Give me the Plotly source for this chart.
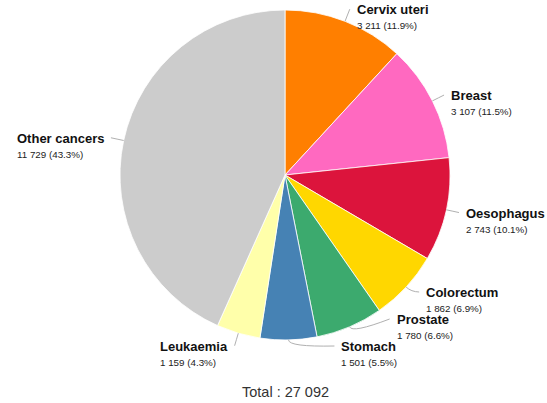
import math
import plotly.graph_objects as go

categories = ["Cervix uteri", "Breast", "Oesophagus", "Colorectum", "Prostate",
              "Stomach", "Leukaemia", "Other cancers"]
values = [3211, 3107, 2743, 1862, 1780, 1501, 1159, 11729]
value_labels = ["3 211", "3 107", "2 743", "1 862", "1 780", "1 501", "1 159", "11 729"]
pct_labels = ["11.9%", "11.5%", "10.1%", "6.9%", "6.6%", "5.5%", "4.3%", "43.3%"]
colors = ["#FF7F00", "#FF69C0", "#DC143C", "#FFD700", "#3CAA6E",
          "#4682B4", "#FFFFAA", "#CCCCCC"]
total_label = "Total : 27 092"

W, H = 547, 403
CX, CY, R = 285, 175, 165     # pie centre / radius in pixels
R_LAB = 178                   # radius where labels attach
GAP = 5
SPACING = 27
MAX_DY = R + 6
FONT = "Liberation Sans, Arial"

def px(x):
    return x / W

def py(y):
    return 1 - y / H

fig = go.Figure(go.Pie(
    labels=categories, values=values, sort=False, direction="clockwise",
    rotation=0, marker=dict(colors=colors, line=dict(color="white", width=0.8)),
    textinfo="none", hoverinfo="label+value+percent", showlegend=False,
    domain=dict(x=[px(CX - R), px(CX + R)], y=[py(CY + R), py(CY - R)]),
))

# label layout computed from slice mid-angles
tot = sum(values)
cum = 0
items = []
for i, v in enumerate(values):
    mid = (cum + v / 2) / tot * 2 * math.pi
    cum += v
    s, c = math.sin(mid), math.cos(mid)
    items.append(dict(i=i, s=s, c=c, side=1 if s >= 0 else -1,
                      y=CY - R_LAB * c))

for side in (1, -1):
    grp = sorted([it for it in items if it["side"] == side], key=lambda d: d["y"])
    nxt = CY + MAX_DY
    for it in reversed(grp):
        it["y"] = min(it["y"], nxt)
        nxt = it["y"] - SPACING
    prev = CY - MAX_DY
    for it in grp:
        it["y"] = max(it["y"], prev)
        prev = it["y"] + SPACING

shapes = []
annotations = []
for it in items:
    i, s, c, side, y = it["i"], it["s"], it["c"], it["side"], it["y"]
    dy = y - CY
    dx = math.sqrt(max(R_LAB ** 2 - dy ** 2, 0))
    lx = CX + side * dx
    ex, ey = CX + R * s, CY - R * c
    qx, qy = CX + (R + 7) * s, CY - (R + 7) * c
    path = f"M {px(ex)},{py(ey)} Q {px(qx)},{py(qy)} {px(lx)},{py(y)}"
    shapes.append(dict(type="path", xref="paper", yref="paper", path=path,
                       line=dict(color="#B0B0B0", width=1)))
    tx = lx + side * GAP
    anchor = "left" if side == 1 else "right"
    text = (f"<span style='font-size:13px;color:#111'><b>{categories[i]}</b></span><br>"
            f"<span style='font-size:9.8px'>{value_labels[i]} ({pct_labels[i]})</span>")
    annotations.append(dict(x=px(tx), y=py(y + 7.5), xref="paper", yref="paper",
                            text=text, showarrow=False, align="left",
                            xanchor=anchor, yanchor="middle",
                            font=dict(family=FONT, size=11.5, color="#222")))

annotations.append(dict(x=px(CX), y=py(392), xref="paper", yref="paper",
                        text=total_label, showarrow=False, xanchor="center", yanchor="middle",
                        font=dict(family=FONT, size=14.5, color="#333")))

fig.update_layout(width=W, height=H, margin=dict(l=0, r=0, t=0, b=0),
                  paper_bgcolor="white", plot_bgcolor="white",
                  shapes=shapes, annotations=annotations)

fig.write_html("out.html")
